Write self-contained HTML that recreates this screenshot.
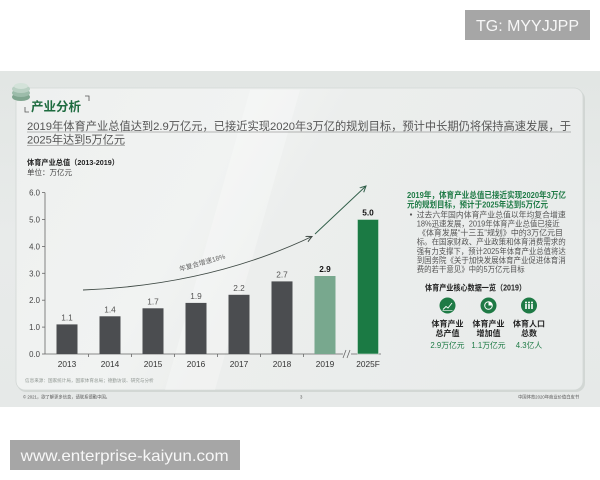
<!DOCTYPE html>
<html><head><meta charset="utf-8">
<style>
html,body{margin:0;padding:0;background:#fff;}
body{width:600px;height:480px;overflow:hidden;position:relative;}
svg{position:absolute;left:0;top:0;}
text{font-family:"Liberation Sans","Noto Sans CJK SC",sans-serif;}
</style></head>
<body>
<svg width="600" height="480" viewBox="0 0 600 480" xmlns="http://www.w3.org/2000/svg">
<defs>
<linearGradient id="slide" x1="0" y1="0" x2="0" y2="1">
<stop offset="0" stop-color="#e2e6e4"/><stop offset="0.5" stop-color="#e8ebea"/><stop offset="1" stop-color="#e6e9e8"/>
</linearGradient>
<linearGradient id="card" x1="0" y1="0" x2="1" y2="0.3">
<stop offset="0" stop-color="#eef0ef"/><stop offset="0.4" stop-color="#f1f3f2"/><stop offset="0.55" stop-color="#eceeed"/><stop offset="1" stop-color="#e9eceb"/>
</linearGradient>
<linearGradient id="bl" x1="0" y1="0" x2="1" y2="0">
<stop offset="0" stop-color="#1e7a45" stop-opacity="0"/><stop offset="0.3" stop-color="#1e7a45" stop-opacity="0.6"/><stop offset="1" stop-color="#1e7a45"/>
</linearGradient>
<linearGradient id="tl" x1="0" y1="0" x2="1" y2="0">
<stop offset="0" stop-color="#1f7a47"/><stop offset="1" stop-color="#5f9a7a"/>
</linearGradient>
<marker id="ah" markerWidth="8" markerHeight="8" refX="6" refY="3" orient="auto" markerUnits="userSpaceOnUse">
<path d="M0,0 L6,3 L0,6" fill="none" stroke="#3f4a45" stroke-width="1"/>
</marker>
<marker id="ah2" markerWidth="8" markerHeight="8" refX="6" refY="3" orient="auto" markerUnits="userSpaceOnUse">
<path d="M0,0 L6,3 L0,6" fill="none" stroke="#2f5e48" stroke-width="1"/>
</marker>
</defs>

<!-- watermark top -->
<rect x="465" y="10" width="125" height="30" fill="#a6a6a6"/>
<text x="476" y="31" font-size="16" fill="#f7f7f7" textLength="103" lengthAdjust="spacingAndGlyphs">TG: MYYJJPP</text>

<!-- slide -->
<rect x="0" y="71" width="600" height="336" fill="url(#slide)"/>
<rect x="17" y="90" width="568" height="302" rx="9" fill="#c9cfcc" opacity="0.7"/>
<rect x="16" y="88" width="567" height="302" rx="9" fill="url(#card)" stroke="#d2d7d5" stroke-width="0.8"/>
<path d="M250,90 L300,90 L215,390 L165,390 Z" fill="#ffffff" opacity="0.25"/>

<!-- logo -->
<ellipse cx="21" cy="97" rx="9" ry="4" fill="#7fa58f"/>
<ellipse cx="21" cy="93" rx="9" ry="4" fill="#9cbcaa"/>
<ellipse cx="21" cy="89" rx="9" ry="4" fill="#b9d0c3"/>
<ellipse cx="21" cy="86" rx="7" ry="3" fill="#d3e2d9"/>

<!-- header -->
<path d="M85,96 L89,96 L89,101" fill="none" stroke="#555" stroke-width="0.8"/>
<path d="M25,107 L25,112 L29,112" fill="none" stroke="#555" stroke-width="0.8"/>
<text x="31" y="111" font-size="12.5" font-weight="bold" fill="#1d6b3f" textLength="50" lengthAdjust="spacingAndGlyphs">产业分析</text>
<text x="27" y="130" font-size="11.2" fill="#555" textLength="544" lengthAdjust="spacingAndGlyphs">2019年体育产业总值达到2.9万亿元，已接近实现2020年3万亿的规划目标，预计中长期仍将保持高速发展，于</text>
<line x1="27" y1="132" x2="571" y2="132" stroke="#777" stroke-width="0.6"/>
<text x="27" y="143.5" font-size="11.2" fill="#555" textLength="98" lengthAdjust="spacingAndGlyphs">2025年达到5万亿元</text>
<line x1="27" y1="145.5" x2="125" y2="145.5" stroke="#777" stroke-width="0.6"/>

<!-- chart title -->
<text x="27" y="165" font-size="7.6" font-weight="bold" fill="#222" textLength="92" lengthAdjust="spacingAndGlyphs">体育产业总值（2013-2019）</text>
<text x="27" y="175" font-size="7.5" fill="#444" textLength="45" lengthAdjust="spacingAndGlyphs">单位：万亿元</text>

<!-- axes -->
<g font-size="7.8" fill="#444" text-anchor="end">
<text x="40" y="357">0.0</text>
<text x="40" y="330.1">1.0</text>
<text x="40" y="303.2">2.0</text>
<text x="40" y="276.3">3.0</text>
<text x="40" y="249.4">4.0</text>
<text x="40" y="222.5">5.0</text>
<text x="40" y="195.6">6.0</text>
</g>
<g stroke="#666" stroke-width="0.8">
<line x1="45" y1="192.6" x2="45" y2="354"/>
<line x1="42" y1="354" x2="45" y2="354"/>
<line x1="42" y1="327.1" x2="45" y2="327.1"/>
<line x1="42" y1="300.2" x2="45" y2="300.2"/>
<line x1="42" y1="273.3" x2="45" y2="273.3"/>
<line x1="42" y1="246.4" x2="45" y2="246.4"/>
<line x1="42" y1="219.5" x2="45" y2="219.5"/>
<line x1="42" y1="192.6" x2="45" y2="192.6"/>
<line x1="45" y1="354" x2="343" y2="354"/>
<line x1="351" y1="354" x2="381" y2="354"/>
<line x1="88.5" y1="354" x2="88.5" y2="357"/>
<line x1="131.5" y1="354" x2="131.5" y2="357"/>
<line x1="174.5" y1="354" x2="174.5" y2="357"/>
<line x1="217.5" y1="354" x2="217.5" y2="357"/>
<line x1="260.5" y1="354" x2="260.5" y2="357"/>
<line x1="303.5" y1="354" x2="303.5" y2="357"/>
<line x1="343" y1="358" x2="346" y2="350"/>
<line x1="347" y1="358" x2="350" y2="350"/>
</g>

<!-- bars -->
<g fill="#4b4d50">
<rect x="56.5" y="324.4" width="21" height="29.6"/>
<rect x="99.5" y="316.3" width="21" height="37.7"/>
<rect x="142.5" y="308.3" width="21" height="45.7"/>
<rect x="185.5" y="302.9" width="21" height="51.1"/>
<rect x="228.5" y="294.8" width="21" height="59.2"/>
<rect x="271.5" y="281.4" width="21" height="72.6"/>
</g>
<rect x="314.5" y="276" width="21" height="78" fill="#78a88e"/>
<rect x="357.5" y="219.5" width="21" height="134.5" fill="#1b7a44" stroke="#cfe3d6" stroke-width="0.6"/>

<g font-size="8.3" fill="#555" text-anchor="middle">
<text x="67" y="320.5">1.1</text>
<text x="110" y="312.5">1.4</text>
<text x="153" y="304.5">1.7</text>
<text x="196" y="299">1.9</text>
<text x="239" y="291">2.2</text>
<text x="282" y="277.5">2.7</text>
</g>
<g font-size="8.3" fill="#111" font-weight="bold" text-anchor="middle">
<text x="325" y="272">2.9</text>
<text x="368" y="215.5">5.0</text>
</g>
<g font-size="8.3" fill="#333" text-anchor="middle">
<text x="67" y="367">2013</text>
<text x="110" y="367">2014</text>
<text x="153" y="367">2015</text>
<text x="196" y="367">2016</text>
<text x="239" y="367">2017</text>
<text x="282" y="367">2018</text>
<text x="325" y="367">2019</text>
<text x="368" y="367">2025F</text>
</g>

<!-- growth arrows -->
<path d="M83,290 Q210,285 312,236.5" fill="none" stroke="#3f4a45" stroke-width="0.9" marker-end="url(#ah)"/>
<path d="M315,234 L366,186" fill="none" stroke="#2f5e48" stroke-width="0.9" marker-end="url(#ah2)"/>
<text x="202" y="265" font-size="6.8" fill="#666" text-anchor="middle" transform="rotate(-16 202 262)">年复合增速18%</text>

<text x="25" y="382" font-size="4.6" fill="#8f9692">信息来源：国家统计局，国家体育总局；德勤访谈、研究与分析</text>

<!-- right panel -->
<line x1="403" y1="181" x2="583" y2="181" stroke="url(#tl)" stroke-width="1.3"/>
<text x="407" y="198" font-size="8.6" font-weight="bold" fill="#1e7a45" textLength="159" lengthAdjust="spacingAndGlyphs">2019年，体育产业总值已接近实现2020年3万亿</text>
<text x="407" y="207.5" font-size="8.6" font-weight="bold" fill="#1e7a45" textLength="141" lengthAdjust="spacingAndGlyphs">元的规划目标，预计于2025年达到5万亿元</text>

<circle cx="411" cy="214.5" r="1.1" fill="#555"/>
<g font-size="7.9" fill="#555">
<text x="416.7" y="217.3" textLength="149" lengthAdjust="spacingAndGlyphs">过去六年国内体育产业总值以年均复合增速</text>
<text x="416.7" y="226.3" textLength="143" lengthAdjust="spacingAndGlyphs">18%迅速发展，2019年体育产业总值已接近</text>
<text x="418" y="235.6" textLength="145" lengthAdjust="spacingAndGlyphs">《体育发展“十三五”规划》中的3万亿元目</text>
<text x="416.7" y="244.6" textLength="149" lengthAdjust="spacingAndGlyphs">标。在国家财政、产业政策和体育消费需求的</text>
<text x="416.7" y="253.9" textLength="149" lengthAdjust="spacingAndGlyphs">强有力支撑下，预计2025年体育产业总值将达</text>
<text x="416.7" y="262.9" textLength="149" lengthAdjust="spacingAndGlyphs">到国务院《关于加快发展体育产业促进体育消</text>
<text x="416.7" y="272.2" textLength="108" lengthAdjust="spacingAndGlyphs">费的若干意见》中的5万亿元目标</text>
</g>

<text x="425" y="290.5" font-size="8.2" font-weight="bold" fill="#222" textLength="101" lengthAdjust="spacingAndGlyphs">体育产业核心数据一览（2019）</text>

<circle cx="447.5" cy="305.5" r="8" fill="#1e7a45"/>
<circle cx="488.5" cy="305.5" r="8" fill="#1e7a45"/>
<circle cx="529" cy="305.5" r="8" fill="#1e7a45"/>
<!-- icon glyphs -->
<path d="M443,309.5 L446,306.5 L448,308 L452,303" fill="none" stroke="#fff" stroke-width="0.9"/>
<path d="M442.5,310.5 L452.5,310.5" stroke="#fff" stroke-width="0.6"/>
<circle cx="488.5" cy="305.5" r="3.8" fill="none" stroke="#fff" stroke-width="1"/>
<path d="M488.5,305.5 L488.5,301.7 A3.8,3.8 0 0 1 492.3,305.5 Z" fill="#fff"/>
<g fill="#fff">
<circle cx="526" cy="302.5" r="1"/><circle cx="529" cy="302.5" r="1"/><circle cx="532" cy="302.5" r="1"/>
<rect x="525.2" y="304" width="1.6" height="5"/><rect x="528.2" y="304" width="1.6" height="5"/><rect x="531.2" y="304" width="1.6" height="5"/>
</g>

<g font-size="8" font-weight="bold" fill="#222" text-anchor="middle">
<text x="447.5" y="326.5">体育产业</text>
<text x="447.5" y="336">总产值</text>
<text x="488.5" y="326.5">体育产业</text>
<text x="488.5" y="336">增加值</text>
<text x="529" y="326.5">体育人口</text>
<text x="529" y="336">总数</text>
</g>
<g font-size="7.8" fill="#1e7a45" text-anchor="middle">
<text x="447.5" y="348">2.9万亿元</text>
<text x="488.5" y="348">1.1万亿元</text>
<text x="529" y="348">4.3亿人</text>
</g>
<line x1="430" y1="354" x2="575" y2="354" stroke="url(#bl)" stroke-width="1.2"/>

<!-- footer -->
<g font-size="4.3" fill="#555">
<text x="23" y="398.5">© 2021，欲了解更多信息，请联系德勤中国。</text>
<text x="300" y="398.5">3</text>
<text x="518" y="398.5">中国体育2020年商业价值白皮书</text>
</g>

<!-- watermark bottom -->
<rect x="10" y="440" width="230" height="30" fill="#a6a6a6"/>
<text x="20.7" y="461" font-size="16" fill="#f7f7f7" textLength="208" lengthAdjust="spacingAndGlyphs">www.enterprise-kaiyun.com</text>
</svg>
</body></html>
